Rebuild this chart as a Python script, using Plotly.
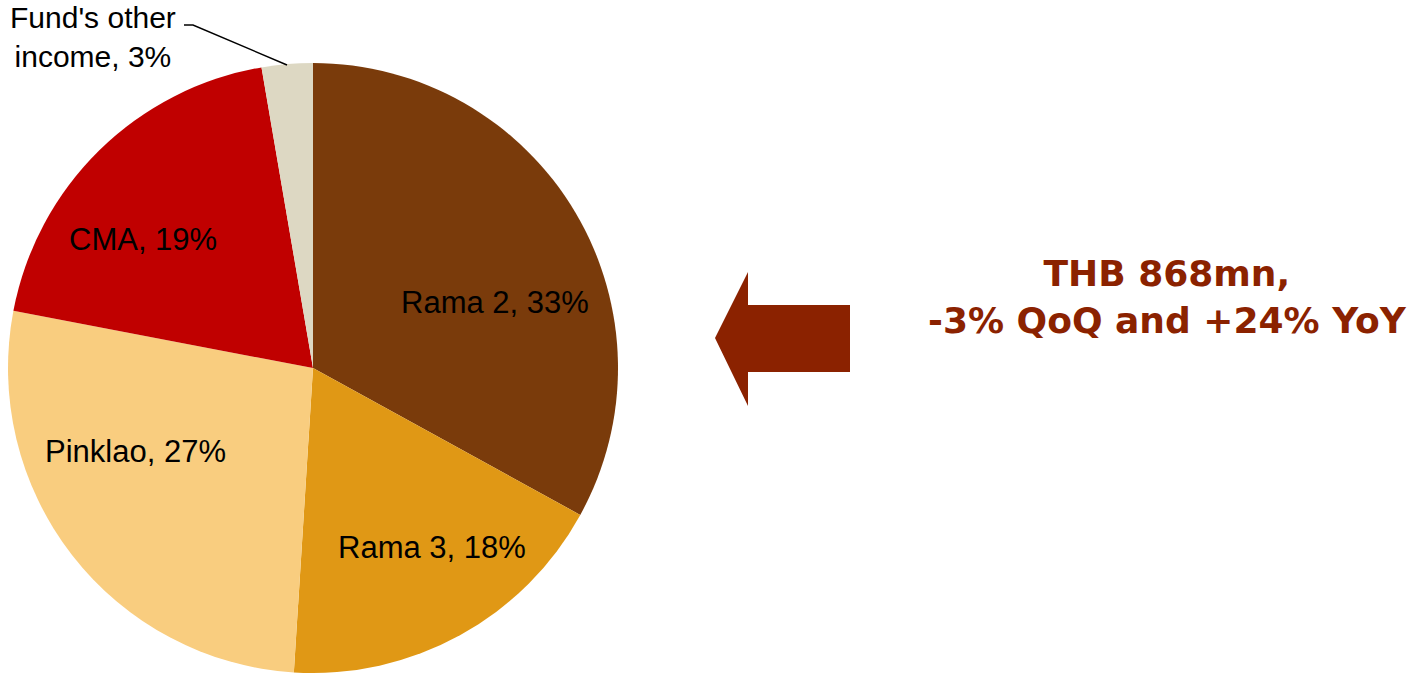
import plotly.graph_objects as go

W, H = 1417, 677

labels = ["Rama 2", "Rama 3", "Pinklao", "CMA", "Fund's other income"]
shares = [33.0, 18.0, 27.0, 19.3, 2.7]
colors = ["#7A3B0B", "#E09815", "#F9CD7F", "#C00000", "#DDD8C3"]
label_texts = ["Rama 2, 33%", "Rama 3, 18%", "Pinklao, 27%", "CMA, 19%", "Fund's other<br>income, 3%"]
label_px = [(495, 302), (432, 547), (135, 451), (143, 240), (93, 37)]
label_sizes = [31, 31, 31, 31, 30]

headline = ["THB 868mn,", "-3% QoQ and +24% YoY"]

def px(x):
    return x / W

def py(y):
    return 1 - y / H

cx, cy, r = 313, 368, 305

fig = go.Figure()
fig.add_trace(go.Pie(
    labels=labels,
    values=shares,
    sort=False,
    direction="clockwise",
    rotation=0,
    textinfo="none",
    hoverinfo="label+percent",
    marker=dict(colors=colors, line=dict(width=0)),
    domain=dict(x=[px(cx - r), px(cx + r)], y=[py(cy + r), py(cy - r)]),
    showlegend=False,
))

for t, (x, y), s in zip(label_texts, label_px, label_sizes):
    fig.add_annotation(x=px(x), y=py(y), xref="paper", yref="paper", text=t,
                       showarrow=False, xanchor="center", yanchor="middle",
                       font=dict(family="Liberation Sans, Arial", size=s, color="#000000"))

# leader line for the small slice
fig.add_shape(type="path", xref="paper", yref="paper",
              path=f"M {px(184)} {py(25)} L {px(193)} {py(25)} L {px(287)} {py(65)}",
              line=dict(color="#000000", width=1.5))

# arrow
ax = [715, 748, 748, 850, 850, 748, 748]
ay = [338, 272, 305, 305, 372, 372, 406]
path = "M " + " L ".join(f"{px(a)} {py(b)}" for a, b in zip(ax, ay)) + " Z"
fig.add_shape(type="path", xref="paper", yref="paper", path=path,
              fillcolor="#8B2200", line=dict(width=0))

fig.add_annotation(x=px(1167), y=py(297), xref="paper", yref="paper",
                   text="<br>".join(headline), showarrow=False,
                   xanchor="center", yanchor="middle", align="center",
                   font=dict(family="DejaVu Sans", size=36, color="#8B2200", weight=700))

fig.update_layout(width=W, height=H, margin=dict(l=0, r=0, t=0, b=0),
                  paper_bgcolor="white", plot_bgcolor="white")

fig.write_html("out.html", config={"displayModeBar": False},
               post_script="document.body.style.margin='0';document.body.style.overflow='hidden';")
